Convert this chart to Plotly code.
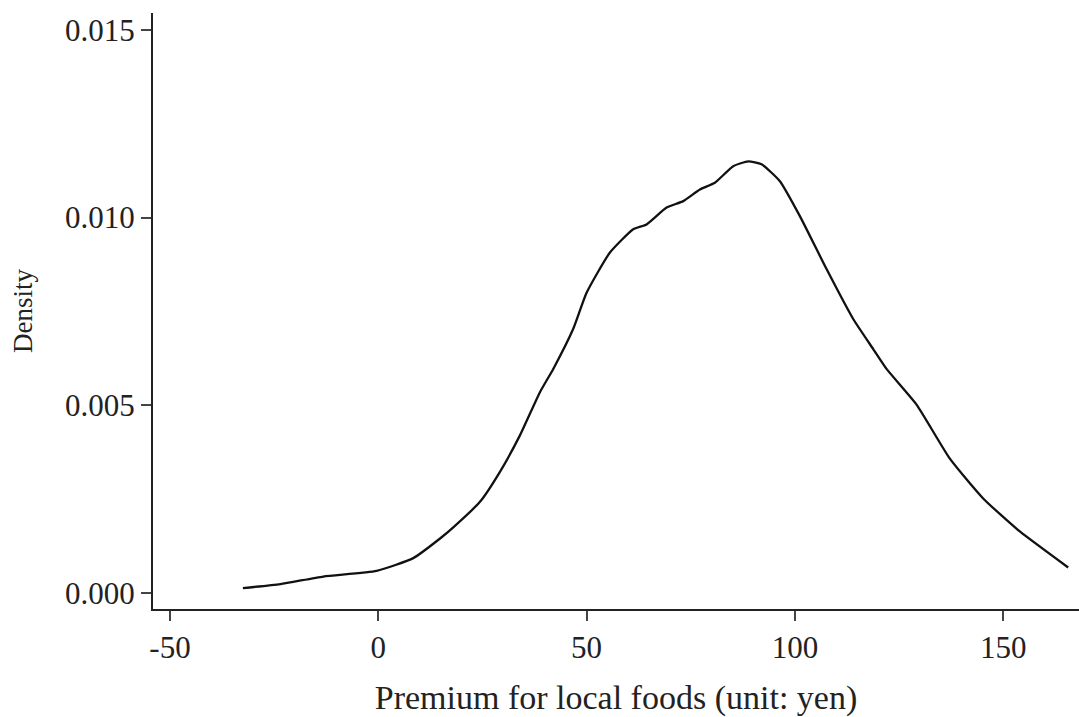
import plotly.graph_objects as go

# Kernel density estimate
premium_yen = [-32.5, -23.5, -13.2, -0.4, 8.4, 14.9, 18.0, 24.4, 29.2, 34.0, 38.8, 42.0,
               46.8, 50.0, 55.6, 61.2, 64.4, 69.2, 73.2, 77.2, 80.8, 85.2, 88.8, 92.0,
               96.4, 101.2, 107.6, 114.0, 118.8, 122.0, 129.2, 137.2, 145.2, 154.0, 165.6]
density = [0.000133, 0.00024, 0.00044, 0.00059, 0.00093, 0.00146, 0.00175, 0.00243, 0.00323,
           0.0042, 0.00535, 0.00597, 0.00704, 0.0080, 0.00907, 0.00969, 0.00982, 0.01027,
           0.01044, 0.01075, 0.01093, 0.01137, 0.0115, 0.01142, 0.01097, 0.01004, 0.00863,
           0.0073, 0.0065, 0.00597, 0.00502, 0.00358, 0.00252, 0.00164, 0.00068]

x_ticks = [-50, 0, 50, 100, 150]
x_tick_labels = ["-50", "0", "50", "100", "150"]
y_ticks = [0.0, 0.005, 0.010, 0.015]
y_tick_labels = ["0.000", "0.005", "0.010", "0.015"]

font_family = "Liberation Serif, Times New Roman, serif"
text_color = "#222222"

fig = go.Figure()
fig.add_trace(go.Scatter(
    x=premium_yen, y=density, mode="lines",
    line=dict(color="#111111", width=2.3, shape="spline", smoothing=0.5),
    showlegend=False, hoverinfo="skip",
))

fig.update_layout(
    width=1079, height=717,
    margin=dict(l=153, r=0, t=13, b=106, pad=0),
    paper_bgcolor="white", plot_bgcolor="white",
    font=dict(family=font_family, size=31, color=text_color),
    xaxis=dict(
        range=[-54.08, 168.2],
        tickvals=x_ticks, ticktext=x_tick_labels,
        showgrid=False, zeroline=False,
        showline=True, linecolor="#222222", linewidth=2,
        ticks="outside", ticklen=10, tickwidth=1.5, tickcolor="#444444",
        tickfont=dict(family=font_family, size=31, color=text_color),
        title=dict(text="Premium for local foods (unit: yen)",
                   font=dict(family=font_family, size=34, color=text_color),
                   standoff=28),
    ),
    yaxis=dict(
        range=[-0.000425, 0.015451],
        tickvals=y_ticks, ticktext=y_tick_labels,
        showgrid=False, zeroline=False,
        showline=True, linecolor="#222222", linewidth=2,
        ticks="outside", ticklen=10, tickwidth=1.5, tickcolor="#444444",
        tickfont=dict(family=font_family, size=31, color=text_color),
        title=dict(text="Density",
                   font=dict(family=font_family, size=27, color=text_color),
                   standoff=25),
    ),
)

fig.write_html("out.html",
               config={"displayModeBar": False},
               post_script="document.body.style.margin='0px';document.body.style.overflow='hidden';")
